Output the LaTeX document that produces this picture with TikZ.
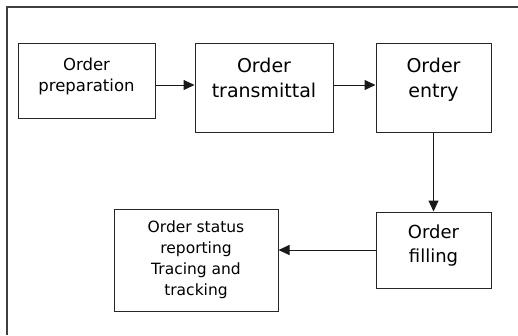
\documentclass[tikz,border=0pt]{standalone}
\usepackage{fontspec}
\setmainfont{DejaVu Sans}
\usetikzlibrary{arrows.meta}
\usetikzlibrary{positioning}

\begin{document}
\begin{tikzpicture}[x=1pt, y=-1pt,
    box/.style={draw=black!85, line width=1pt, rectangle, align=center, inner sep=0pt},
    arr/.style={draw=black!90, line width=1pt, -{Triangle[length=11pt,width=10pt]}}]
            \useasboundingbox (0,0) rectangle (518,335);

            % Outer frame (only top and left edges show)
            \draw[line width=1.5pt, black!75] (7,335) -- (7,7) -- (518,7);

            % Order boxes
            \node[box, minimum width=137pt, minimum height=75pt, text depth=11pt,
                  font={\fontsize{16.5}{21}\selectfont}] (prep) at (86.5,80.5) {Order\\preparation};
            \node[box, minimum width=138pt, minimum height=89pt, text depth=20pt,
                  font={\fontsize{19}{25}\selectfont}] (trans) at (264,87.5) {Order\\transmittal};
            \node[box, minimum width=115pt, minimum height=89pt, text depth=20pt,
                  font={\fontsize{19}{25}\selectfont}] (entry) at (433.5,87.5) {Order\\entry};
            \node[box, minimum width=115pt, minimum height=76pt, text depth=13pt,
                  font={\fontsize{18}{24}\selectfont}] (fill) at (433.5,250) {Order\\filling};
            \node[box, minimum width=164pt, minimum height=102pt,
                  font={\fontsize{15.5}{21}\selectfont}] (status) at (196,260)
                  {Order status\\reporting\\Tracing and\\tracking};

            % Flow
            \draw[arr] ([yshift=-4.5pt]prep.east) -- ([yshift=-4.5pt]prep.east -| trans.west);
            \draw[arr] ([yshift=2.5pt]trans.east) -- ([yshift=2.5pt]trans.east -| entry.west);
            \draw[arr] (entry.south) -- (fill.north);
            \draw[arr] (fill.west) -- (fill.west -| status.east);
        \end{tikzpicture}
\end{document}
